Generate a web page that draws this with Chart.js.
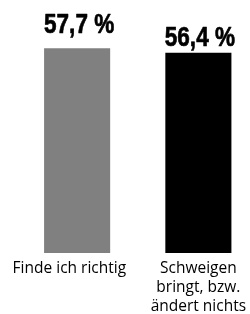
<!DOCTYPE html>
<html>
<head>
<meta charset="utf-8">
<script src="https://cdn.jsdelivr.net/npm/chart.js@4"></script>
<style>
  html, body { margin: 0; padding: 0; background: #fff; overflow: hidden; }
  #wrap { position: absolute; left: 0; top: 0; width: 259px; height: 314px; }
</style>
</head>
<body>
<div id="wrap"><canvas id="c" width="259" height="314"></canvas></div>
<script>
// Data
const categories = [
  ["Finde ich richtig"],
  ["Schweigen", "bringt, bzw.", "ändert nichts"]
];
const values = [57.7, 56.4];
const barColors = ["#808080", "#000000"];

const fmt = v => v.toFixed(1).replace(".", ",") + " %";

const valueLabels = {
  id: "valueLabels",
  afterDatasetsDraw(chart, args, opts) {
    const ctx = chart.ctx;
    const meta = chart.getDatasetMeta(0);
    const sx = opts.squeeze;
    meta.data.forEach((bar, i) => {
      ctx.save();
      ctx.font = "bold 28.5px 'Liberation Sans', Arial, sans-serif";
      ctx.fillStyle = "#000";
      ctx.strokeStyle = "#000";
      ctx.lineWidth = 0.7;
      ctx.lineJoin = "round";
      ctx.textAlign = "center";
      ctx.textBaseline = "alphabetic";
      ctx.translate(bar.x + opts.dx[i], bar.y - opts.gaps[i]);
      ctx.scale(sx, 1);
      ctx.fillText(fmt(values[i]), 0, 0);
      ctx.strokeText(fmt(values[i]), 0, 0);
      ctx.restore();
    });
  }
};

new Chart(document.getElementById("c"), {
  type: "bar",
  data: {
    labels: categories,
    datasets: [{
      data: values,
      backgroundColor: barColors,
      borderWidth: 0,
      categoryPercentage: 1,
      barPercentage: 0.545
    }]
  },
  options: {
    responsive: false,
    animation: false,
    devicePixelRatio: 1,
    layout: { padding: { left: 16.5, right: 0, top: 0, bottom: 0 } },
    plugins: {
      legend: { display: false },
      tooltip: { enabled: false },
      valueLabels: { gaps: [15, 6.5], dx: [2, 1.5], squeeze: 0.79 }
    },
    scales: {
      x: {
        grid: { display: false, drawTicks: false },
        border: { display: false },
        ticks: {
          color: "#000",
          padding: 6,
          maxRotation: 0,
          autoSkip: false,
          labelOffset: 0,
          callback(value, index) {
            const lab = this.getLabelForValue(value);
            // first label sits a little left of its bar in the reference
            return index === 0 ? [lab[0] + "\u2002\u2002"] : lab;
          },
          font: { family: "'Open Sans', sans-serif", size: 15.5, lineHeight: "19px" }
        },
        afterFit(scale) { scale.height = 61; }
      },
      y: {
        display: false,
        min: 0,
        max: 71.27
      }
    }
  },
  plugins: [valueLabels]
});
</script>
</body>
</html>
